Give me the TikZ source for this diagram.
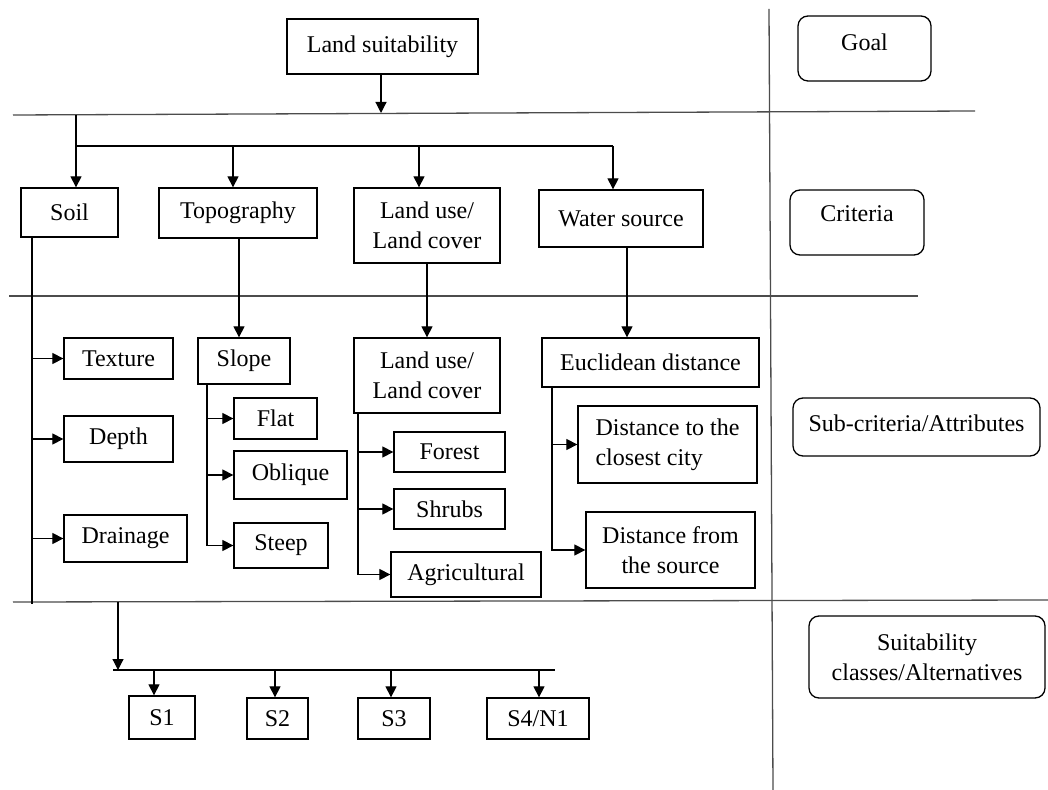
\documentclass[tikz,border=0pt]{standalone}
\usepackage{fontspec}
\setmainfont{Liberation Serif}
\usetikzlibrary{arrows.meta}
\begin{document}
\begin{tikzpicture}[x=0.5pt,y=-0.5pt,
  every node/.style={font=\fontsize{12}{15}\selectfont},
  box/.style={draw, line width=0.65pt, inner sep=0pt, align=center},
  rbox/.style={box, rounded corners=5pt},
  wh/.style 2 args={minimum width=#1*0.5pt, minimum height=#2*0.5pt},
  divider/.style={line width=0.65pt, black!70},
  link/.style={line width=0.6pt},
  arr/.style={link, -{Triangle[length=5.5pt,width=5.5pt]}}]
\useasboundingbox (0,0) rectangle (1048,790);

% dividers
\draw[divider] (13,115) -- (975,111);
\draw[divider] (9,296) -- (918,296);
\draw[divider] (13,602) -- (1048,600);
\draw[divider] (769,9) -- (773,790);

% level labels
\node[rbox, wh={133}{65}] (goalbox) at (864.5,48.5) {};
\node (goal) at (864.5,42) {Goal};
\node[rbox, wh={134}{65}] (critbox) at (857,222.5) {};
\node (crit) at (857,214) {Criteria};
\node[rbox, wh={247}{58}] (subbox) at (916.5,427) {};
\node (sub) at (916.5,423) {Sub-criteria/Attributes};
\node[rbox, wh={236}{82}] (suit) at (927,657) {Suitability\\classes/Alternatives};

% goal
\node[box, wh={191}{55}] (ls) at (382.5,46.5) {Land suitability};

% criteria
\node[box, wh={97}{49}] (soil) at (69.5,212.5) {Soil};
\node[box, wh={158}{50}] (topo) at (238,213) {Topography};
\node[box, wh={146}{75}] (lu1) at (427,225.5) {Land use/\\Land cover};
\node[box, wh={164}{57}] (water) at (621,218.5) {Water source};

% sub-criteria
\node[box, wh={109}{41}] (texture) at (118.5,358.5) {Texture};
\node[box, wh={109}{46}] (depth) at (118.5,439) {Depth};
\node[box, wh={123}{47}] (drain) at (125.5,538.5) {Drainage};
\node[box, wh={92}{46}] (slope) at (244,361) {Slope};
\node[box, wh={83}{41}] (flat) at (275.5,418.5) {Flat};
\node[box, wh={113}{48}] (obl) at (290.5,475) {Oblique};
\node[box, wh={94}{45}] (steep) at (281,545.5) {Steep};
\node[box, wh={146}{75}] (lu2) at (427,375.5) {Land use/\\Land cover};
\node[box, wh={111}{40}] (forest) at (449.5,452) {Forest};
\node[box, wh={111}{40}] (shrubs) at (449.5,509) {Shrubs};
\node[box, wh={150}{45}] (agri) at (466,574.5) {Agricultural};
\node[box, wh={217}{49}] (eucl) at (650.5,362.5) {Euclidean distance};
\node[box, wh={179}{77}, align=left] (city) at (667.5,444.5) {Distance to the\\closest city};
\node[box, wh={169}{76}] (source) at (670.5,550) {Distance from\\the source};

% alternatives
\node[box, wh={66}{43}] (s1) at (162,717.5) {S1};
\node[box, wh={61}{41}] (s2) at (277.5,718.5) {S2};
\node[box, wh={72}{41}] (s3) at (394,718.5) {S3};
\node[box, wh={102}{41}] (s4) at (538,718.5) {S4/N1};

% goal -> criteria
\coordinate (j0) at (381,113);
\draw[arr] (381,0 |- ls.south) -- (j0);
\coordinate (c0) at (76,115);
\coordinate (c1) at (76,146);
\coordinate (c2) at (613,146);
\draw[arr] (c0) -- (76,0 |- soil.north);
\draw[link] (c1) -- (c2);
\draw[arr] (233,146) -- (233,0 |- topo.north);
\draw[arr] (419,146) -- (419,0 |- lu1.north);
\draw[arr] (c2) -- (613,0 |- water.north);

% soil
\coordinate (sb) at (32,604);
\draw[link] (32,0 |- soil.south) -- (sb);
\draw[arr] (32,0 |- texture.west) -- (texture.west);
\draw[arr] (32,0 |- depth.west) -- (depth.west);
\draw[arr] (32,0 |- drain.west) -- (drain.west);

% topography
\draw[arr] (239,0 |- topo.south) -- (239,0 |- slope.north);
\draw[arr] (207,0 |- slope.south) |- (steep.west);
\draw[arr] (207,0 |- flat.west) -- (flat.west);
\draw[arr] (207,0 |- obl.west) -- (obl.west);

% land use
\draw[arr] (lu1.south) -- (lu2.north);
\draw[arr] (358,0 |- lu2.south) |- (agri.west);
\draw[arr] (358,0 |- forest.west) -- (forest.west);
\draw[arr] (358,0 |- shrubs.west) -- (shrubs.west);

% water
\draw[arr] (627,0 |- water.south) -- (627,0 |- eucl.north);
\draw[arr] (552,0 |- eucl.south) |- (source.west);
\draw[arr] (552,0 |- city.west) -- (city.west);

% alternatives
\coordinate (a0) at (118,602);
\coordinate (a1) at (118,670);
\coordinate (a2) at (555,670);
\draw[arr] (a0) -- (a1);
\draw[link] (113,670) -- (a2);
\draw[arr] (154,670) -- (154,0 |- s1.north);
\draw[arr] (275,670) -- (275,0 |- s2.north);
\draw[arr] (391,670) -- (391,0 |- s3.north);
\draw[arr] (539,670) -- (539,0 |- s4.north);
\end{tikzpicture}
\end{document}
